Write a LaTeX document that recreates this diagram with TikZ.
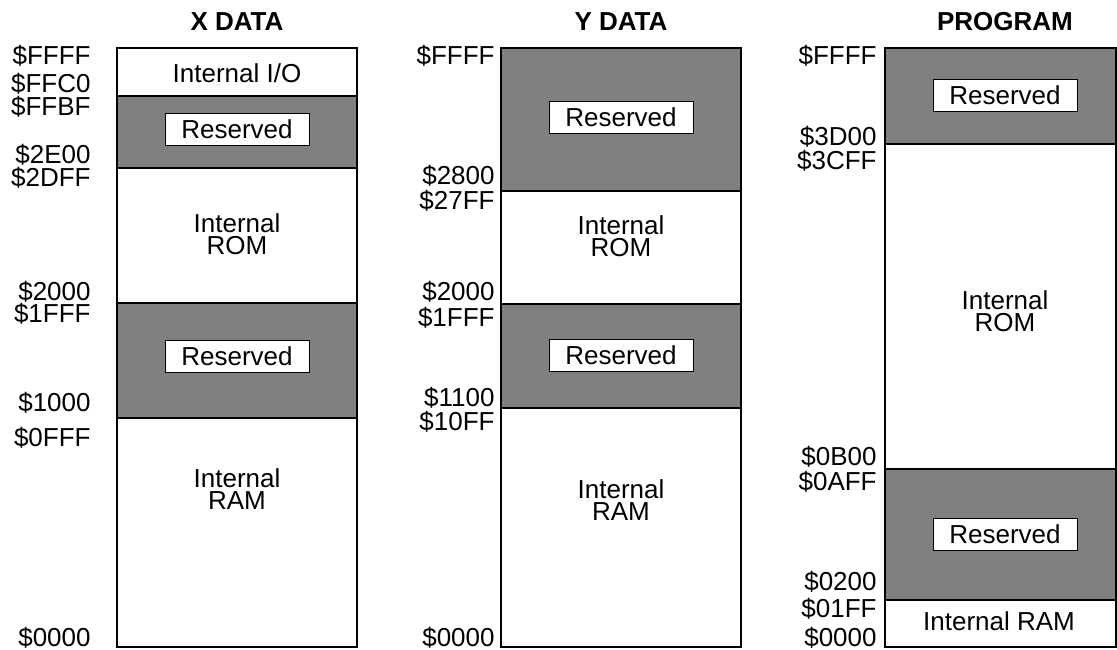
\documentclass[tikz,border=0pt]{standalone}
\usepackage{fontspec}
\setmainfont{Liberation Sans}
\usetikzlibrary{positioning}
\newcommand{\memfont}{\fontsize{13}{11}\selectfont}
\tikzset{
	seg/.style={draw,line width=0.75pt,fill=white},
	resv/.style={seg,fill=black!50},
	tag/.style={draw,fill=white,line width=0.5pt,minimum width=72pt,minimum height=16pt,inner sep=0pt,font=\memfont},
	addr/.style={anchor=base east,inner sep=0pt,font=\memfont},
	head/.style={inner sep=0pt,font=\memfont\bfseries},
	txt/.style={align=center,inner sep=0pt,font=\memfont}
}
\begin{document}
\begin{tikzpicture}[x=0.5pt,y=-0.5pt]
	\useasboundingbox (0,0) rectangle (1117,649);
	\node[head] (xhead) at (237,22) {X DATA};
	\node[head] (yhead) at (621,22) {Y DATA};
	\node[head] (phead) at (1005,22) {PROGRAM};
	
	\draw[seg] (117,48) rectangle (357,96);
	\draw[resv] (117,96) rectangle (357,168);
	\draw[seg] (117,168) rectangle (357,303);
	\draw[resv] (117,303) rectangle (357,418);
	\draw[seg] (117,418) rectangle (357,647);
	\node[txt] (xio) at (237,73) {Internal I/O};
	\node[tag] (xres1) at (237,129) {Reserved};
	\node[txt] (xrom) at (237,234) {Internal\\ROM};
	\node[tag] (xres2) at (237,356) {Reserved};
	\node[txt] (xram) at (237,489) {Internal\\RAM};
	\foreach \y/\t in {56/FFFF,84/FFC0,107/FFBF,155/2E00,178/2DFF,292/2000,314/1FFF,403/1000,438/0FFF,638/0000}
		\node[addr] (xa\t) at (91,\y+8) {\$\t};
	
	\draw[resv] (501,48) rectangle (741,191);
	\draw[seg] (501,191) rectangle (741,304);
	\draw[resv] (501,304) rectangle (741,408);
	\draw[seg] (501,408) rectangle (741,647);
	\node[tag] (yres1) at (621,117) {Reserved};
	\node[txt] (yrom) at (621,236) {Internal\\ROM};
	\node[tag] (yres2) at (621,355) {Reserved};
	\node[txt] (yram) at (621,500) {Internal\\RAM};
	\foreach \y/\t in {56/FFFF,176/2800,201/27FF,292/2000,318/1FFF,398/1100,422/10FF,638/0000}
		\node[addr] (ya\t) at (495,\y+8) {\$\t};
	
	\draw[resv] (885,48) rectangle (1116,144);
	\draw[seg] (885,144) rectangle (1116,469);
	\draw[resv] (885,469) rectangle (1116,600);
	\draw[seg] (885,600) rectangle (1116,647);
	\node[tag] (pres1) at (1005,95) {Reserved};
	\node[txt] (prom) at (1005,311) {Internal\\ROM};
	\node[tag] (pres2) at (1005,534) {Reserved};
	\node[txt] (pram) at (999,621) {Internal RAM};
	\foreach \y/\t in {56/FFFF,137/3D00,161/3CFF,457/0B00,482/0AFF,582/0200,609/01FF,638/0000}
		\node[addr] (pa\t) at (877,\y+8) {\$\t};
\end{tikzpicture}
\end{document}
